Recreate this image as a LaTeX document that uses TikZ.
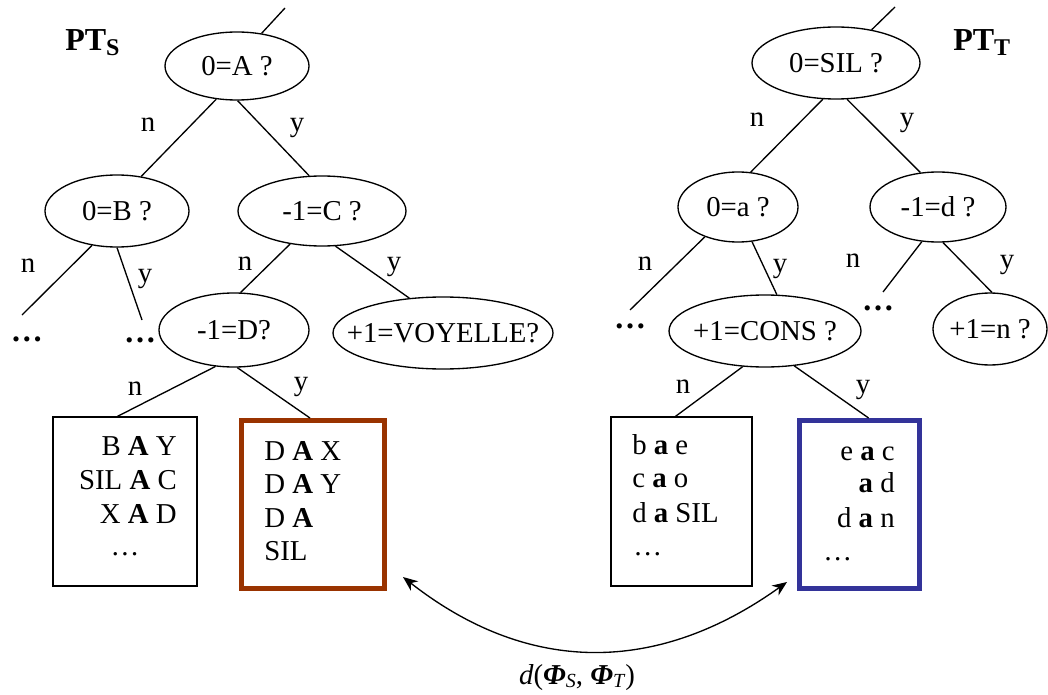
\documentclass[tikz,border=0pt]{standalone}
\usepackage{fontspec}
\setmainfont{Liberation Serif}
\usetikzlibrary{shapes.geometric,arrows.meta}
\definecolor{brownbox}{RGB}{153,51,0}
\definecolor{bluebox}{RGB}{51,51,153}
\newcommand{\ztext}[1]{\makebox[0pt]{#1}}
\begin{document}
\begin{tikzpicture}[x=0.75pt,y=-0.75pt,
  every node/.style={font=\fontsize{21.6}{25}\selectfont},
  q/.style={ellipse,draw,line width=1pt,inner sep=0pt},
  edge/.style={line width=1pt},
  lbl/.style={anchor=base,inner sep=0pt},
  leaf/.style={draw,line width=1pt,inner sep=0pt,minimum height=126.75pt},
  sel/.style={draw,line width=3.75pt,inner sep=0pt,minimum height=126pt},
  txt/.style={inner sep=0pt},
  more/.style={inner sep=0pt,font=\fontsize{24}{24}\selectfont\bfseries},
  title/.style={anchor=base west,inner sep=0pt,font=\fontsize{24}{28}\selectfont\bfseries},
  biarrow/.style={line width=1pt,{Stealth[length=11pt,width=9pt]}-{Stealth[length=11pt,width=9pt]}}
]
\useasboundingbox (0,0) rectangle (1048,695);

% ---------------- left tree PT_S ----------------
\node[title] (pts) at (65,51) {PT\raisebox{-0.3ex}{\fontsize{18}{18}\selectfont S}};

\node[q,minimum width=108pt,minimum height=51pt] (A) at (237,66) {\ztext{0=A ?}};
\node[q,minimum width=108pt,minimum height=54pt] (B) at (117,211) {\ztext{0=B ?}};
\node[q,minimum width=126pt,minimum height=52.5pt] (C) at (322,211) {\ztext{-1=C ?}};
\node[q,minimum width=112.5pt,minimum height=55.5pt] (D) at (234,330) {\ztext{-1=D?}};
\node[q,minimum width=165pt,minimum height=54pt] (V) at (443,333) {\ztext{+1=VOYELLE?}};

\coordinate (Atop) at (285,8);
\coordinate (Bn) at (22,315);
\coordinate (By) at (142,320);

\draw[edge] (A.53) -- (Atop);
\draw[edge] (A.238) -- (B.55);
\draw[edge] (A.271) -- (C.110);
\draw[edge] (B.234) -- (Bn);
\draw[edge] (B.270) -- (By);
\draw[edge] (C.226) -- (D.80);
\draw[edge] (C.291) -- (V.134);

\node[lbl] (l1) at (148,132) {n};
\node[lbl] (l2) at (297,132) {y};
\node[lbl] (l3) at (28,272) {n};
\node[lbl] (l4) at (145,282) {y};
\node[lbl] (l5) at (245,270) {n};
\node[lbl] (l6) at (394,270) {y};
\node[lbl] (l7) at (135,395) {n};
\node[lbl] (l8) at (301,390) {y};

\node[more] (dots1) at (27,339) {…};
\node[more] (dots2) at (140,340) {…};

\node[leaf,minimum width=108pt] (lbox) at (125,501.5) {};
\node[sel,draw=brownbox,minimum width=107.25pt] (sbox) at (313,504.5) {};

\draw[edge] (D.243) -- (lbox.95.4);
\draw[edge] (D.275) -- (sbox.92);

\node[txt,anchor=base east] (lb1) at (177,455) {B \textbf{A} Y};
\node[txt,anchor=base east] (lb2) at (177,489) {SIL \textbf{A} C};
\node[txt,anchor=base east] (lb3) at (177,523) {X \textbf{A} D};
\node[txt,anchor=base] (lb4) at (125,555) {…};

\node[txt,anchor=base west] (sb1) at (264,460) {D \textbf{A} X};
\node[txt,anchor=base west] (sb2) at (264,493) {D \textbf{A} Y};
\node[txt,anchor=base west] (sb3) at (264,527) {D \textbf{A}};
\node[txt,anchor=base west] (sb4) at (264,560) {SIL};

% ---------------- right tree PT_T ----------------
\node[title] (ptt) at (953,51) {PT\raisebox{-0.3ex}{\fontsize{18}{18}\selectfont T}};

\node[q,minimum width=126pt,minimum height=54pt] (SIL) at (836,63) {\ztext{0=SIL ?}};
\node[q,minimum width=90pt,minimum height=52.5pt] (a) at (738,207) {\ztext{0=a ?}};
\node[q,minimum width=102pt,minimum height=52.5pt] (d) at (938,207) {\ztext{-1=d ?}};
\node[q,minimum width=144pt,minimum height=54pt] (CONS) at (765,331) {\ztext{+1=CONS ?}};
\node[q,minimum width=85.5pt,minimum height=54pt] (nq) at (990,329) {\ztext{+1=n ?}};

\coordinate (SILtop) at (895,7);
\coordinate (an) at (630,310);
\coordinate (dn) at (883,292);

\draw[edge] (SIL.43) -- (SILtop);
\draw[edge] (SIL.250) -- (a.70);
\draw[edge] (SIL.287) -- (d.117);
\draw[edge] (a.222) -- (an);
\draw[edge] (a.292) -- (CONS.72);
\draw[edge] (d.245) -- (dn);
\draw[edge] (d.278) -- (nq.87);

\node[lbl] (r1) at (757,127) {n};
\node[lbl] (r2) at (907,127) {y};
\node[lbl] (r3) at (645,270) {n};
\node[lbl] (r4) at (780,272) {y};
\node[lbl] (r5) at (853,267) {n};
\node[lbl] (r6) at (1007,268) {y};
\node[lbl] (r7) at (683,393) {n};
\node[lbl] (r8) at (863,393) {y};

\node[more] (dots3) at (630,326) {…};
\node[more] (dots4) at (878,308) {…};

\node[leaf,minimum width=105.75pt] (rbox) at (681.5,501.5) {};
\node[sel,draw=bluebox,minimum width=90pt] (tbox) at (859.5,504.5) {};

\draw[edge] (CONS.238.6) -- (rbox.94.4);
\draw[edge] (CONS.310.6) -- (tbox.84.4);

\node[txt,anchor=base west] (rb1) at (632,454) {b \textbf{a} e};
\node[txt,anchor=base west] (rb2) at (632,487) {c \textbf{a} o};
\node[txt,anchor=base west] (rb3) at (632,522) {d \textbf{a} SIL};
\node[txt,anchor=base west] (rb4) at (633,555) {…};

\node[txt,anchor=base east] (tb1) at (895,460) {e \textbf{a} c};
\node[txt,anchor=base east] (tb2) at (895,492) {\textbf{a} d};
\node[txt,anchor=base east] (tb3) at (895,527) {d \textbf{a} n};
\node[txt,anchor=base west] (tb4) at (823,560) {…};

% ---------------- distance arrow ----------------
\coordinate (arrL) at (403,577);
\coordinate (arrR) at (787,582);
\draw[biarrow] (arrL) .. controls (528,675) and (657,675) .. (arrR);
\node[txt,anchor=base] (dist) at (577,684) {\textit{d}(\textbf{\textit{Φ}}\raisebox{-0.3ex}{\fontsize{15}{15}\selectfont\textit{S}}, \textbf{\textit{Φ}}\raisebox{-0.3ex}{\fontsize{15}{15}\selectfont\textit{T}})};

\end{tikzpicture}
\end{document}
